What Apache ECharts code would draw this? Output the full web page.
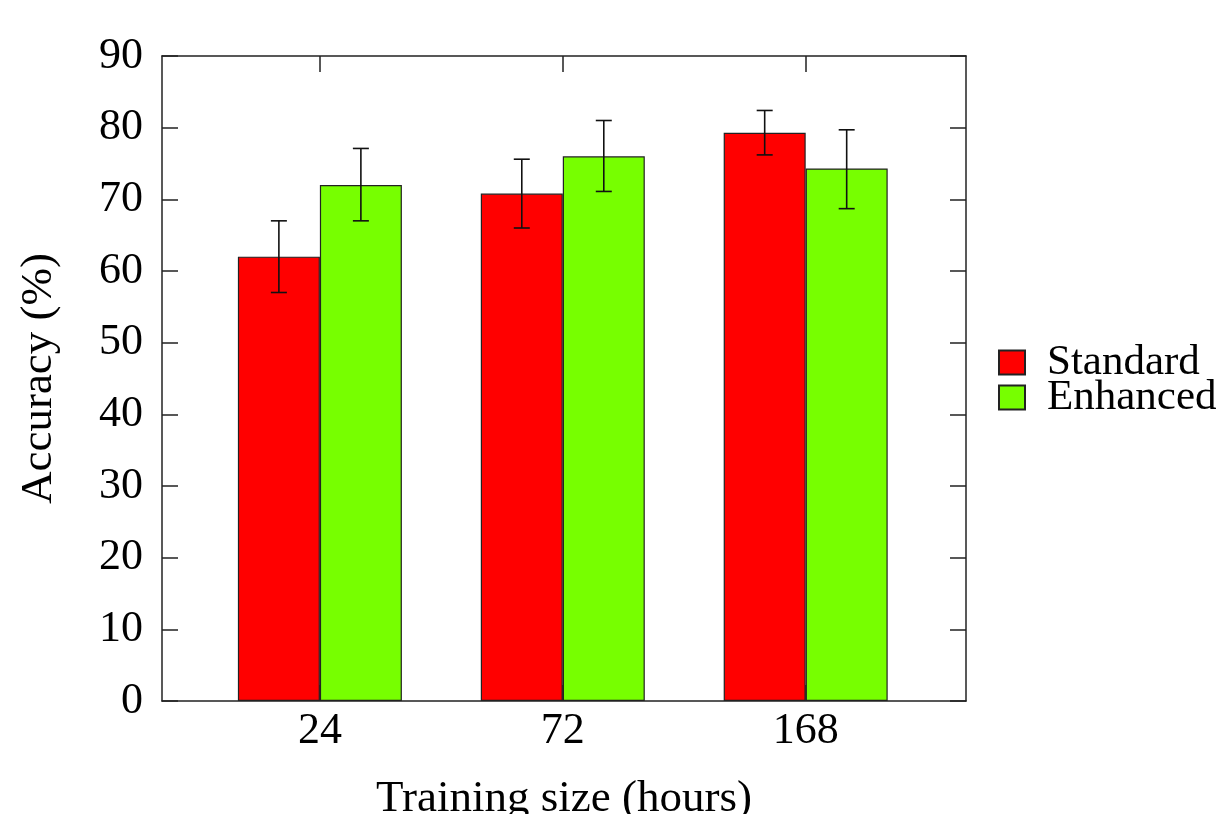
<!DOCTYPE html>
<html>
<head>
<meta charset="utf-8">
<script src="https://cdn.jsdelivr.net/npm/echarts@6/dist/echarts.min.js"></script>
<style>html,body{margin:0;padding:0;background:#fff}#c{width:1218px;height:814px}</style>
</head>
<body>
<div id="c"></div>
<script>
var categories = ['24', '72', '168'];
var seriesNames = ['Standard', 'Enhanced'];
var standard = [62.0, 70.8, 79.3];
var enhanced = [72.0, 76.0, 74.3];
var standardLow = [57.0, 66.0, 76.2];
var standardHigh = [67.0, 75.6, 82.4];
var enhancedLow = [67.0, 71.1, 68.7];
var enhancedHigh = [77.1, 81.0, 79.7];
var yTicks = [0, 10, 20, 30, 40, 50, 60, 70, 80, 90];

var FONT = '"Liberation Serif", "DejaVu Serif", serif';
var BAR_W = 82;
var pos = categories.map(function (c, i) { return i; });

function barData(vals) { return vals.map(function (v, i) { return [i, v]; }); }
function errData(lo, hi) { return lo.map(function (v, i) { return [i, v, hi[i]]; }); }

function errSeries(lo, hi, offset) {
  return {
    type: 'custom',
    xAxisIndex: 0, yAxisIndex: 0,
    z: 10,
    data: errData(lo, hi),
    encode: { x: 0, y: [1, 2] },
    renderItem: function (params, api) {
      var pLo = api.coord([api.value(0), api.value(1)]);
      var pHi = api.coord([api.value(0), api.value(2)]);
      var x = pLo[0] + offset;
      var cap = 8;
      var st = { stroke: '#111', lineWidth: 1.6 };
      return {
        type: 'group',
        children: [
          { type: 'line', shape: { x1: x, y1: pLo[1], x2: x, y2: pHi[1] }, style: st },
          { type: 'line', shape: { x1: x - cap, y1: pLo[1], x2: x + cap, y2: pLo[1] }, style: st },
          { type: 'line', shape: { x1: x - cap, y1: pHi[1], x2: x + cap, y2: pHi[1] }, style: st }
        ]
      };
    }
  };
}

var axisLine = { show: true, onZero: false, lineStyle: { color: '#222', width: 1.5 } };
var tickStyle = { color: '#222', width: 1.5 };

var chart = echarts.init(document.getElementById('c'), null, { renderer: 'canvas' });
chart.setOption({
  backgroundColor: '#fff',
  animation: false,
  textStyle: { fontFamily: FONT },
  grid: { left: 162, right: 252, top: 56, bottom: 113, containLabel: false, outerBoundsMode: 'none' },
  legend: {
    orient: 'vertical',
    left: 998, top: 341,
    padding: 0,
    icon: 'rect',
    itemWidth: 26, itemHeight: 24,
    itemGap: -8,
    data: seriesNames,
    textStyle: { fontFamily: FONT, fontSize: 43, color: '#000', padding: [0, 0, 0, 17] }
  },
  xAxis: [{
    type: 'value',
    position: 'bottom',
    min: -0.65, max: 2.66,
    name: 'Training size (hours)',
    nameLocation: 'middle',
    nameGap: 76,
    nameTextStyle: { fontFamily: FONT, fontSize: 45, color: '#000' },
    axisLine: axisLine,
    axisTick: { show: true, inside: true, length: 16, lineStyle: tickStyle, customValues: pos },
    axisLabel: {
      show: true, margin: 8, fontFamily: FONT, fontSize: 44, color: '#000',
      customValues: pos,
      formatter: function (v) { return categories[Math.round(v)]; }
    },
    splitLine: { show: false }
  }, {
    type: 'value',
    position: 'top',
    min: -0.65, max: 2.66,
    axisLine: axisLine,
    axisTick: { show: true, inside: true, length: 16, lineStyle: tickStyle, customValues: pos },
    axisLabel: { show: false },
    splitLine: { show: false }
  }],
  yAxis: [{
    type: 'value',
    position: 'left',
    min: yTicks[0], max: yTicks[yTicks.length - 1], interval: 10,
    name: 'Accuracy (%)',
    nameLocation: 'middle',
    nameGap: 100,
    nameTextStyle: { fontFamily: FONT, fontSize: 45, color: '#000' },
    axisLine: axisLine,
    axisTick: { show: true, inside: true, length: 16, lineStyle: tickStyle },
    axisLabel: { margin: 19, fontFamily: FONT, fontSize: 44, color: '#000' },
    splitLine: { show: false }
  }, {
    type: 'value',
    position: 'right',
    min: yTicks[0], max: yTicks[yTicks.length - 1], interval: 10,
    axisLine: axisLine,
    axisTick: { show: true, inside: true, length: 16, lineStyle: tickStyle },
    axisLabel: { show: false },
    splitLine: { show: false }
  }],
  series: [{
    name: seriesNames[0],
    type: 'bar',
    xAxisIndex: 0, yAxisIndex: 0,
    barWidth: BAR_W,
    barGap: '0%',
    data: barData(standard),
    itemStyle: { color: '#ff0000', borderColor: '#222', borderWidth: 1.2 }
  }, {
    name: seriesNames[1],
    type: 'bar',
    xAxisIndex: 0, yAxisIndex: 0,
    barWidth: BAR_W,
    barGap: '0%',
    data: barData(enhanced),
    itemStyle: { color: '#77ff00', borderColor: '#222', borderWidth: 1.2 }
  },
  errSeries(standardLow, standardHigh, -BAR_W / 2),
  errSeries(enhancedLow, enhancedHigh, BAR_W / 2)
  ]
});
</script>
</body>
</html>
